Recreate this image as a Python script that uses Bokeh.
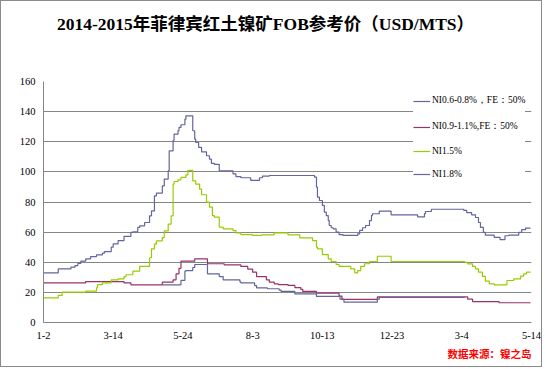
from bokeh.plotting import figure
from bokeh.models import Title, Range1d, Div
from bokeh.layouts import column
from bokeh.embed import file_html
from bokeh.resources import INLINE

# ---- axis ticks (category index of trading days) ----
tick_days = [0, 71, 142, 213, 284, 355, 426, 497]
tick_labels = ["1-2", "3-14", "5-24", "8-3", "10-13", "12-23", "3-4", "5-14"]
y_ticks = [0, 20, 40, 60, 80, 100, 120, 140, 160]
last_day = 496

# ---- series: day index where a price level starts, and the price level ----
ni06_days = [0, 15, 28, 32, 35, 38, 43, 48, 54, 60, 62, 69, 71, 76, 82, 89, 91, 96, 98, 103,
             108, 110, 113, 115, 121, 123, 127, 128, 132, 133, 137, 138, 140, 144, 145, 152,
             154, 155, 158, 161, 166, 169, 171, 174, 179, 193, 196, 201, 211, 220, 223, 230,
             276, 278, 279, 281, 284, 286, 288, 290, 291, 293, 295, 298, 301, 305, 320, 322,
             325, 328, 332, 334, 335, 342, 354, 381, 388, 389, 395, 428, 431, 436, 440, 443,
             445, 448, 450, 459, 465, 470, 474, 484, 487, 491]
ni06_vals = [33, 35.6, 36.7, 37.8, 39.2, 40.7, 42.3, 43.8, 44.9, 46, 47.1, 50, 52.2, 54.4, 57.2,
             59.8, 60.2, 63.1, 64.2, 66.4, 70.8, 74.1, 84.1, 85.9, 90.7, 95.2, 100.7, 114, 121,
             125, 127.3, 129.5, 131.3, 135, 137.2, 127.3, 121.7, 119.5, 116.2, 113.3, 110.7,
             108.5, 105.7, 105, 100.7, 98.7, 96.9, 96.1, 94.3, 96.1, 97.2, 97.6, 96.5, 89.9,
             83.2, 81, 77.7, 73.3, 71, 67.7, 64.4, 62.9, 62.2, 60, 58.4, 57.8, 58.9, 61.1, 62.9,
             64.4, 67.7, 71, 72.2, 74, 71.5, 70.1, 72.3, 73.7, 75.2, 74.5, 73, 71.5, 69.7, 66.4,
             63.1, 59.8, 58, 56.5, 55, 57.6, 58, 59.8, 61.6, 62.7]

ni09_days = [0, 43, 82, 89, 121, 132, 135, 138, 140, 154, 167, 184, 201, 208, 213, 217, 227,
             230, 235, 239, 249, 256, 262, 264, 278, 301, 304, 340, 432, 437, 464]
ni09_vals = [26.3, 27.2, 26.3, 25, 26.8, 28.3, 32.3, 36, 40.7, 42.3, 39, 38.3, 37.2, 35.5, 33.4,
             30.5, 28.3, 26.8, 25.7, 25.2, 24.6, 23.2, 22, 20.6, 19.5, 17.5, 15.3, 17, 15.5,
             13.9, 13.1]

ni15_days = [0, 15, 19, 43, 54, 55, 60, 69, 76, 82, 84, 91, 98, 108, 110, 113, 115, 121, 123,
             127, 130, 132, 133, 137, 140, 145, 147, 152, 155, 159, 161, 166, 169, 172, 174,
             179, 183, 193, 196, 201, 213, 222, 235, 249, 261, 274, 278, 279, 284, 290, 293,
             298, 301, 313, 317, 320, 323, 327, 332, 340, 354, 429, 432, 437, 440, 443, 447,
             450, 454, 459, 472, 479, 486, 489, 492]
ni15_vals = [16.4, 18, 20.1, 20.8, 23, 25.2, 26.3, 28.3, 29, 30.5, 31.7, 34.1, 37.2, 43, 48.9,
             52, 54.2, 56.4, 60.8, 65.3, 70.8, 91.9, 93.6, 94.7, 96.3, 98, 101, 94, 91.9, 88.5,
             84.8, 79.9, 76.6, 71, 70, 63.3, 62.2, 61, 59.5, 58.4, 57.8, 58.2, 59.5, 58.2, 56.2,
             54.4, 50, 48.9, 45.1, 42.3, 40.5, 38.5, 37.2, 35.6, 33, 34.5, 37.2, 39, 40.5, 44,
             40.5, 40, 38.9, 37.2, 35.6, 33.4, 30.6, 27.5, 25.7, 25, 27.9, 29, 30.8, 32.3, 33.4]

ni18_days = [121, 140, 144, 145, 152, 154, 167, 179, 183, 200, 201, 215, 217, 228, 240, 242,
             256, 278, 302, 306, 340, 342]
ni18_vals = [25, 28, 34.1, 34.5, 36.5, 38.5, 32.3, 30.5, 28.3, 27, 26.3, 24.5, 23, 22.4, 21.5,
             20.6, 19, 17.3, 15.5, 13.5, 15.5, 16.6]
ni18_end = 429

series = [
    ("NI0.6-0.8%，FE：50%", ni06_days, ni06_vals, last_day, "#64649e"),
    ("NI0.9-1.1%,FE：50%", ni09_days, ni09_vals, last_day, "#993366"),
    ("NI1.5%", ni15_days, ni15_vals, last_day, "#99cc00"),
    ("NI1.8%", ni18_days, ni18_vals, ni18_end, "#64649e"),
]

GRAY = "#868686"
SERIF = "Liberation Serif"

title_div = Div(
    text="2014-2015年菲律宾红土镍矿FOB参考价（USD/MTS）",
    width=540, height=40, margin=0,
    styles={"font-family": "'Liberation Serif', 'Noto Sans CJK SC'", "font-size": "17.5px",
            "font-weight": "bold", "color": "black", "padding-left": "56px",
            "padding-top": "3px", "box-sizing": "border-box",
            "line-height": "40px", "background-color": "white"})

p = figure(width=540, height=325, output_backend="svg", toolbar_location=None,
           x_range=Range1d(0, 497), y_range=Range1d(0, 160),
           min_border_left=42, min_border_right=10, min_border_top=40, min_border_bottom=44,
           background_fill_color="white", border_fill_color="white", margin=0)
p.outline_line_color = None

for name, days, vals, end, color in series:
    xs = list(days) + [end]
    ys = list(vals) + [vals[-1]]
    p.step(xs, ys, mode="after", line_color=color, line_width=1.2, legend_label=name)

# axes
p.xaxis.ticker = tick_days
p.xaxis.major_label_overrides = {d: l for d, l in zip(tick_days, tick_labels)}
p.yaxis.ticker = y_ticks
for ax in (p.xaxis[0], p.yaxis[0]):
    ax.axis_line_color = GRAY
    ax.axis_line_width = 1
    ax.major_tick_line_color = None
    ax.minor_tick_line_color = None
    ax.major_tick_out = 0
    ax.major_tick_in = 0
    ax.minor_tick_out = 0
    ax.minor_tick_in = 0
    ax.major_label_text_font = SERIF
    ax.major_label_text_font_size = "10.5px"
    ax.major_label_text_color = "black"
p.xaxis.major_label_standoff = 9
p.yaxis.major_label_standoff = 8
p.xgrid.visible = False
p.ygrid.grid_line_color = GRAY
p.ygrid.grid_line_width = 1

# source note below the axis
src = Title(text="数据来源：镍之岛", align="right", text_color="#ff0000",
            text_font="Noto Sans CJK SC", text_font_size="10.5px", text_font_style="bold",
            standoff=5, offset=0)
p.add_layout(src, "below")

# legend (kept inside the plot frame so nothing is clipped)
lg = p.legend[0]
lg.location = (370, 143)
lg.background_fill_color = "white"
lg.background_fill_alpha = 1
lg.border_line_color = None
lg.glyph_width = 17
lg.glyph_height = 10
lg.label_height = 10
lg.label_standoff = 2
lg.spacing = 13
lg.padding = 6
lg.margin = 0
lg.label_text_font = SERIF
lg.label_text_font_size = "9.5px"
lg.label_text_color = "black"

page = column(title_div, p, spacing=0, margin=0,
              styles={"border": "1px solid #8a8a8a", "background-color": "white"})

open("out.html", "w").write(file_html(page, INLINE))
